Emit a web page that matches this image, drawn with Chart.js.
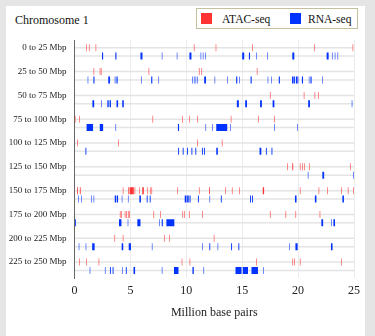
<!DOCTYPE html>
<html>
<head>
<meta charset="utf-8">
<script src="https://cdn.jsdelivr.net/npm/chart.js@4"></script>
<style>
    body { margin: 0; background: #e5e5e5; font-family: "Liberation Serif", serif; }
    .card { position: absolute; left: 6px; top: 6px; width: 359px; height: 340px; background: #fff; }
    .title { position: absolute; left: 15px; top: 12px; font-size: 12px; line-height: 16px; color: #111; }
    .legend { position: absolute; left: 196px; top: 8px; width: 160px; height: 19px; border: 1px solid #c4bf9c; }
    .legend span { position: absolute; top: 0; font-size: 11.5px; line-height: 20px; color: #111; }
    .legend i { position: absolute; top: 4px; width: 11px; height: 11px; }
    #chart { position: absolute; left: 6px; top: 32px; }
</style>
</head>
<body>
<div class="card"></div>
<div class="title">Chromosome 1</div>
<div class="legend" id="legend"></div>
<canvas id="chart" width="359" height="304"></canvas>
<script>
document.addEventListener('DOMContentLoaded', () => {

    const rowLabels = ['0 to 25 Mbp', '25 to 50 Mbp', '50 to 75 Mbp', '75 to 100 Mbp', '100 to 125 Mbp',
        '125 to 150 Mbp', '150 to 175 Mbp', '175 to 200 Mbp', '200 to 225 Mbp', '225 to 250 Mbp'];

    // peaks per row, [start, end] in million base pairs
    const atacPeaks = [
        [[1.06,1.11],[1.29,1.34],[1.89,1.94],[10.68,10.73],[12.63,12.68],[15.88,15.93],[21.43,21.48],[24.88,24.93]],
        [[1.71,1.76],[2.26,2.31],[2.36,2.41],[6.63,6.68],[11.13,11.18],[11.36,11.41],[16.31,16.36]],
        [[17.48,17.53],[20.51,20.56],[21.48,21.53],[21.81,21.86]],
        [[0.03,0.08],[0.41,0.46],[6.98,7.03],[9.64,9.69],[10.24,10.29],[10.98,11.03],[13.98,14.03],[16.45,16.5],[17.85,17.9]],
        [[0.23,0.28],[3.93,3.98],[10.98,11.03],[13.18,13.23]],
        [[19.03,19.08],[19.48,19.56],[20.16,20.21],[20.36,20.41],[20.54,20.59],[20.98,21.03],[24.68,24.73]],
        [[0.23,0.3],[0.48,0.55],[4.32,4.37],[4.8,4.86],[4.93,5.3],[5.38,5.43],[5.8,5.85],[6.06,6.2],[6.52,6.57],[6.75,6.8],
         [6.89,6.94],[9.2,9.25],[11.13,11.18],[12.03,12.1],[13.5,13.55],[14.08,14.13],[14.74,14.79],[16.84,16.96],
         [20.16,20.21],[21.84,21.89],[22.61,22.66],[23.85,23.9],[24.45,24.5],[24.95,25]],
        [[4.06,4.11],[4.16,4.21],[4.5,4.55],[4.62,4.67],[4.78,4.83],[4.9,4.95],[7.07,7.12],[7.66,7.71],[9.66,9.71],
         [9.8,9.85],[10.24,10.29],[11.42,11.47],[17.48,17.53],[18.88,18.93],[19.77,19.82],[21.93,21.98]],
        [[3.58,3.63],[4.32,4.37],[8.02,8.07],[8.46,8.51],[12.46,12.51]],
        [[0.41,0.46],[1.06,1.11],[2.16,2.21],[9.59,9.64],[10.3,10.35],[16.25,16.3],[19.5,19.55],[19.65,19.7],[20.16,20.21],[23.85,23.9]]
    ];

    const rnaPeaks = [
        [[2.46,2.56],[3.65,3.75],[5.9,6.08],[7.81,7.86],[9.15,9.2],[10.28,10.46],[11.28,11.33],[11.48,11.53],[11.68,11.73],
         [15.0,15.18],[15.6,15.7],[16.25,16.3],[17.23,17.28],[19.48,19.66],[22.55,22.73],[23.03,23.08],[23.28,23.33],[23.53,23.58]],
        [[1.18,1.23],[1.69,1.79],[3.02,3.18],[3.6,3.65],[3.7,3.76],[3.83,3.89],[5.98,6.03],[6.86,6.96],[7.51,7.56],
         [10.53,10.58],[10.68,10.73],[10.83,10.88],[10.98,11.03],[11.6,11.76],[12.53,12.58],[13.64,13.69],[14.46,14.56],
         [14.74,14.79],[15.75,15.85],[17.28,17.33],[17.58,17.63],[18.27,18.37],[19.46,19.6],[19.64,19.72],[19.8,19.94],
         [19.96,20.02],[20.34,20.44],[20.96,21.01],[21.11,21.21],[22.14,22.19]],
        [[1.6,1.76],[2.39,2.44],[2.94,3.06],[3.14,3.26],[3.76,3.9],[4.27,4.41],[14.52,14.7],[15.27,15.43],[16.6,16.76],
         [17.72,17.88],[20.9,21.06],[24.8,24.85]],
        [[1.08,1.66],[2.26,2.56],[3.67,3.72],[9.25,9.35],[11.72,11.77],[12.33,12.38],[12.68,13.66],[13.94,13.99],[17.85,17.9],[19.94,19.99]],
        [[0.98,1.06],[9.27,9.35],[9.68,9.76],[10.06,10.14],[10.46,10.54],[10.81,10.89],[11.4,11.48],[11.58,11.66],
         [12.68,12.82],[16.55,16.71],[17.12,17.2],[17.62,17.7]],
        [[20.87,20.92],[22.17,22.33],[24.95,25.0]],
        [[0.32,0.37],[0.62,0.67],[1.51,1.56],[1.71,1.76],[3.6,3.72],[3.78,3.9],[4.23,4.28],[4.78,4.83],[5.8,5.94],
         [6.46,6.54],[6.73,6.81],[9.86,10.0],[10.04,10.14],[10.18,10.26],[10.3,10.38],[11.04,11.12],[12.08,12.13],
         [13.09,13.17],[15.7,15.78],[15.88,15.96],[19.72,19.86],[21.5,21.64],[23.96,24.1]],
        [[0,0.12],[3.98,4.2],[4.76,4.81],[5.62,5.9],[7.58,7.63],[7.8,7.9],[8.22,8.93],[22.08,22.24],[22.98,23.03],[23.16,23.3]],
        [[0.38,0.43],[1.0,1.05],[1.58,1.8],[4.22,4.36],[4.85,5.05],[6.92,6.97],[11.42,11.47],[12.06,12.14],[12.8,12.85],
         [14.01,14.09],[14.66,14.74],[19.21,19.26],[19.76,19.96],[22.94,23.08]],
        [[1.36,1.41],[2.72,2.77],[3.17,3.25],[3.41,3.49],[4.26,4.31],[4.59,4.67],[5.28,5.42],[7.81,7.86],[8.9,9.3],
         [10.55,10.67],[11.54,11.59],[14.4,14.94],[15.05,15.52],[15.83,16.41],[16.9,16.95]]
    ];

    const seriesNames = ['ATAC-seq', 'RNA-seq'];
    const seriesColors = ['#ff3333', '#0033ff'];
    const xRange = [0, 25];

    const toPoints = (rows) => rows.flatMap((row, i) => row.map(p => ({ x: p, y: rowLabels[i] })));
    const track = rowLabels.map(l => ({ x: xRange, y: l }));

    const markStyle = { barPercentage: 0.84, categoryPercentage: 0.7, inflateAmount: 0, order: 1 };
    const trackStyle = { backgroundColor: '#e4e4e4', barPercentage: 1, categoryPercentage: 0.7, maxBarThickness: 1.5, inflateAmount: 0, order: 2 };

    const chart = document.getElementById('chart');
    new Chart(chart.getContext('2d'), {
        type: 'bar',
        data: {
            labels: rowLabels,
            datasets: [
                { label: seriesNames[0], data: toPoints(atacPeaks), backgroundColor: seriesColors[0], stack: 'atac', ...markStyle },
                { label: seriesNames[1], data: toPoints(rnaPeaks), backgroundColor: seriesColors[1], stack: 'rna', ...markStyle },
                { label: 'track atac', data: track, stack: 'atac', ...trackStyle },
                { label: 'track rna', data: track, stack: 'rna', ...trackStyle }
            ]
        },
        options: {
            indexAxis: 'y',
            responsive: false,
            devicePixelRatio: 1,
            animation: false,
            layout: { padding: { top: 8, right: 9, bottom: 12, left: 0 } },
            plugins: {
                legend: { display: false },
                tooltip: { enabled: false }
            },
            scales: {
                x: {
                    type: 'linear',
                    min: xRange[0],
                    max: xRange[1],
                    stacked: false,
                    border: { display: false },
                    grid: { color: '#ececec', drawTicks: false },
                    ticks: { stepSize: 5, padding: 5, color: '#222', font: { family: 'Liberation Serif', size: 12 } },
                    title: {
                        display: true,
                        text: 'Million base pairs',
                        color: '#222',
                        padding: { top: 3, bottom: 4 },
                        font: { family: 'Liberation Serif', size: 12 }
                    }
                },
                y: {
                    grid: { display: false, drawTicks: false },
                    border: { display: true, color: '#666', width: 1 },
                    afterFit: (s) => { s.width = 68.5; s.paddingTop = 0; s.paddingBottom = 0; },
                    ticks: { padding: 8, labelOffset: -4.15, color: '#222', font: { family: 'Liberation Serif', size: 9 } }
                }
            }
        }
    });

    // legend box built from the series names and colours
    const legend = document.getElementById('legend');
    const spots = [[4, 25], [93, 111]];
    seriesNames.forEach((name, i) => {
        const box = document.createElement('i');
        box.style.left = spots[i][0] + 'px';
        box.style.background = seriesColors[i];
        const txt = document.createElement('span');
        txt.style.left = spots[i][1] + 'px';
        txt.textContent = name;
        legend.appendChild(box);
        legend.appendChild(txt);
    });
});
</script>
</body>
</html>
